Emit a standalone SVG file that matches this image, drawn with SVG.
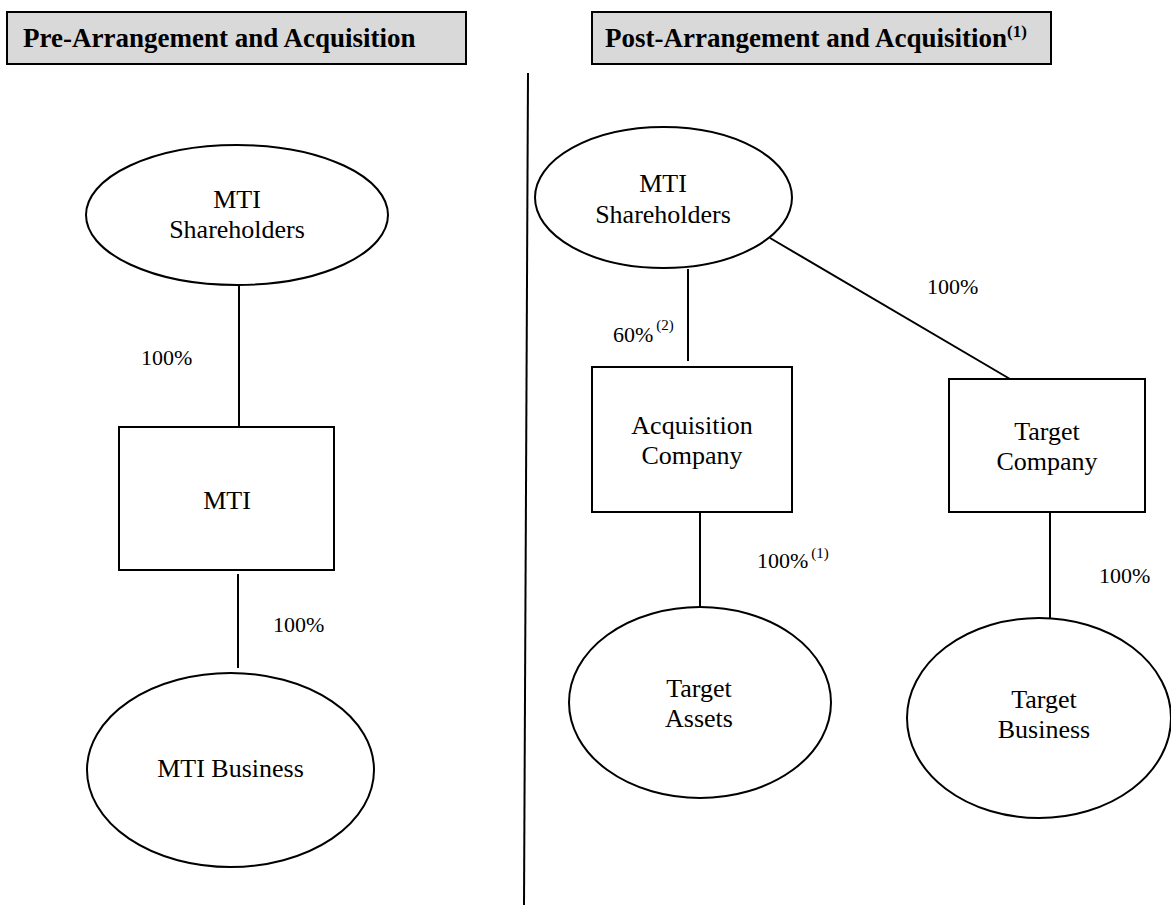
<svg xmlns="http://www.w3.org/2000/svg" width="1171" height="909" viewBox="0 0 1171 909">
<style>
.hdr{fill:#d9d9d9;stroke:#000;stroke-width:2}
.shape{fill:#fff;stroke:#000;stroke-width:2}
.conn{stroke:#000;stroke-width:2;fill:none}
.ht{font-family:"Liberation Serif","Times New Roman",serif;font-weight:bold;font-size:27px;fill:#000}
.nt{font-family:"Liberation Serif","Times New Roman",serif;font-size:26px;fill:#000;text-anchor:middle}
.pt{font-family:"Liberation Serif","Times New Roman",serif;font-size:22px;fill:#000}
.hsup{font-size:17px}
.sup{font-size:15px}
</style>
<rect width="1171" height="909" fill="#fff"/>
<g id="header-pre">
<rect class="hdr" x="7" y="12" width="459" height="52"/>
<text class="ht" x="23" y="47">Pre-Arrangement and Acquisition</text>
</g>
<g id="header-post">
<rect class="hdr" x="592" y="12" width="459" height="52"/>
<text class="ht" x="605" y="47">Post-Arrangement and Acquisition<tspan class="hsup" dy="-10">(1)</tspan></text>
</g>
<g id="divider">
<line class="conn" x1="528" y1="73" x2="524" y2="905"/>
</g>
<g id="connectors">
<line class="conn" x1="239" y1="285" x2="239" y2="427"/>
<line class="conn" x1="238" y1="574" x2="238" y2="668"/>
<line class="conn" x1="688" y1="269" x2="688" y2="361"/>
<line class="conn" x1="770" y1="238" x2="1010" y2="379"/>
<line class="conn" x1="700" y1="512" x2="700" y2="607"/>
<line class="conn" x1="1050" y1="512" x2="1050" y2="618"/>
</g>
<g id="labels">
<text class="pt" x="141" y="365">100%</text>
<text class="pt" x="273" y="632">100%</text>
<text class="pt" x="613" y="342">60%<tspan class="sup" dx="3" dy="-12">(2)</tspan></text>
<text class="pt" x="927" y="294">100%</text>
<text class="pt" x="757" y="568">100%<tspan class="sup" dx="3" dy="-10">(1)</tspan></text>
<text class="pt" x="1099" y="583">100%</text>
</g>
<g id="node-mti-shareholders-pre">
<ellipse class="shape" cx="237" cy="215" rx="151" ry="70"/>
<text class="nt" x="237" y="208">MTI</text>
<text class="nt" x="237" y="238">Shareholders</text>
</g>
<g id="node-mti">
<rect class="shape" x="119" y="427" width="215" height="143"/>
<text class="nt" x="227" y="509">MTI</text>
</g>
<g id="node-mti-business">
<ellipse class="shape" cx="230.5" cy="770" rx="143.5" ry="97"/>
<text class="nt" x="230.5" y="777">MTI Business</text>
</g>
<g id="node-mti-shareholders-post">
<ellipse class="shape" cx="663.5" cy="197.5" rx="128.5" ry="70.5"/>
<text class="nt" x="663" y="192">MTI</text>
<text class="nt" x="663" y="223">Shareholders</text>
</g>
<g id="node-acquisition-company">
<rect class="shape" x="592" y="367" width="200" height="145"/>
<text class="nt" x="692" y="434">Acquisition</text>
<text class="nt" x="692" y="464">Company</text>
</g>
<g id="node-target-company">
<rect class="shape" x="949" y="379" width="196" height="133"/>
<text class="nt" x="1047" y="440">Target</text>
<text class="nt" x="1047" y="470">Company</text>
</g>
<g id="node-target-assets">
<ellipse class="shape" cx="700" cy="702.5" rx="131" ry="95.5"/>
<text class="nt" x="699" y="697">Target</text>
<text class="nt" x="699" y="727">Assets</text>
</g>
<g id="node-target-business">
<ellipse class="shape" cx="1039" cy="718" rx="132" ry="100"/>
<text class="nt" x="1044" y="708">Target</text>
<text class="nt" x="1044" y="738">Business</text>
</g>
</svg>
